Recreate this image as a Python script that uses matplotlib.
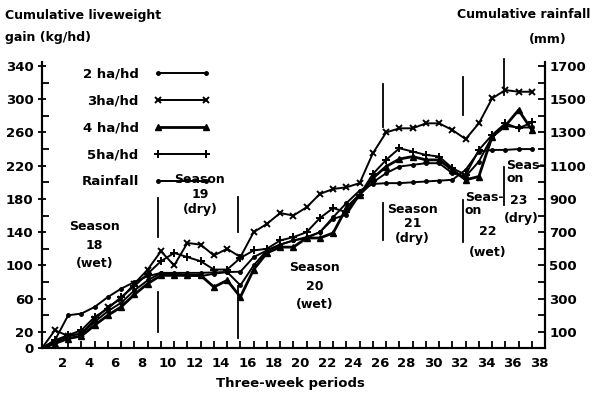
import numpy as np
import matplotlib
matplotlib.use("Agg")
import matplotlib.pyplot as plt
from matplotlib.lines import Line2D
from matplotlib.transforms import ScaledTranslation

plt.rcParams.update({"font.family": "DejaVu Sans", "font.weight": "bold", "font.size": 9})

periods = np.arange(0, 38)
gain_2ha = [0, 8, 15, 18, 32, 45, 55, 70, 82, 91, 90, 88, 87, 90, 92, 76, 100, 118, 125, 130,
            133, 140, 156, 161, 185, 200, 211, 219, 221, 223, 223, 211, 207, 225, 255, 268, 266, 266]
gain_3ha = [0, 22, 15, 18, 35, 50, 60, 78, 95, 117, 100, 127, 125, 112, 120, 110, 140, 150, 163, 160,
            170, 186, 192, 194, 199, 235, 260, 265, 265, 271, 271, 263, 252, 271, 301, 311, 309, 309]
gain_4ha = [0, 6, 12, 15, 28, 40, 50, 65, 78, 88, 88, 88, 88, 74, 82, 62, 95, 115, 122, 122,
            133, 133, 139, 169, 185, 205, 219, 228, 231, 227, 227, 215, 203, 207, 255, 268, 287, 263]
gain_5ha = [0, 10, 16, 22, 38, 48, 62, 75, 90, 105, 115, 110, 105, 95, 95, 109, 118, 120, 130, 134,
            140, 157, 169, 164, 185, 210, 227, 241, 237, 233, 231, 217, 209, 239, 257, 271, 265, 272]
rain_mm = [0, 50, 200, 210, 250, 310, 360, 400, 435, 455, 455, 455, 455, 458, 460, 462, 550, 590, 625, 650,
           670, 700, 790, 875, 950, 990, 995, 995, 1000, 1005, 1010, 1015, 1075, 1185, 1195, 1195, 1200, 1200]

# season boundaries (period) with the two drawn bar pieces (kg units)
bound_x = [8.8, 14.85, 25.8, 31.8, 34.9]
bar_hi = [(134, 181), (140, 182), (266, 318), (281, 327), (305, 348)]
bar_lo = [(20, 68), (13, 75), (131, 175), (128, 179), (173, 219)]

fig = plt.figure(figsize=(5.99, 3.99), dpi=100)
ax = fig.add_axes([0.0696, 0.1266, 0.8404, 0.7184])
ax2 = ax.twinx()

lw = 1.4
h2, = ax.plot(periods, gain_2ha, "k-", marker="o", ms=2.5, lw=lw)
h3, = ax.plot(periods, gain_3ha, "k-", marker="x", ms=4.5, mew=1.4, lw=lw)
h4, = ax.plot(periods, gain_4ha, "k-", marker="^", ms=4, lw=2.0)
h5, = ax.plot(periods, gain_5ha, "k-", marker="+", ms=5.5, mew=1.4, lw=lw)
hr, = ax2.plot(periods, rain_mm, "k-", marker="o", ms=2.5, lw=lw)

for x, (a, b), (c, d) in zip(bound_x, bar_hi, bar_lo):
    ax.plot([x, x], [a, b], color="k", lw=1.3, clip_on=False)
    ax.plot([x, x], [c, d], color="k", lw=1.3, clip_on=False)

ax.set_xlim(0, 38)
ax.set_ylim(0, 345)
ax2.set_ylim(0, 1725)
for a in (ax, ax2):
    a.spines["top"].set_visible(False)
    for s in a.spines.values():
        s.set_linewidth(1.5)

ax.set_xticks(np.arange(2, 39, 2))
ax.set_xticks(np.arange(1, 38), minor=True)
ax.set_yticks([0, 20, 60, 100, 140, 180, 220, 260, 300, 340])
ax.set_yticks(np.arange(0, 341, 20), minor=True)
ax2.set_yticks(np.arange(100, 1701, 200))
ax2.set_yticks(np.arange(0, 1701, 100), minor=True)
ax.tick_params(axis="x", which="both", direction="in", length=5, width=1.3, labelsize=9.5, pad=6)
ax.tick_params(axis="y", which="major", direction="inout", length=6, width=1.3, labelsize=9.5, pad=3)
ax.tick_params(axis="y", which="minor", direction="in", length=5, width=1.3)
ax2.tick_params(axis="y", which="both", direction="in", length=5, width=1.3, labelsize=9.5, pad=3)
shift = ScaledTranslation(-6 / 100, 0, fig.dpi_scale_trans)
for lab in ax.get_xticklabels():
    lab.set_transform(lab.get_transform() + shift)

ax.legend([h2, h3, h4, h5, hr], ["2 ha/hd", "3ha/hd", "4 ha/hd", "5ha/hd", "Rainfall"],
          loc="upper left", bbox_to_anchor=(0.055, 1.02), frameon=False, markerfirst=False,
          numpoints=2, handlelength=4.2, labelspacing=1.05, fontsize=9.5, handletextpad=1.2)

kw = dict(fontsize=9, ha="center", va="center", linespacing=1.55)
ax.text(4.0, 124, "Season\n18\n(wet)", **kw)
ax.text(11.95, 185, "Season\n19\n(dry)", linespacing=1.2, **{k: v for k, v in kw.items() if k != "linespacing"})
ax.text(20.6, 75, "Season\n20\n(wet)", **kw)
ax.text(28.0, 150, "Season\n21\n(dry)", linespacing=1.15, **{k: v for k, v in kw.items() if k != "linespacing"})
ax.text(31.95, 174, "Seas-\non", fontsize=9, ha="left", va="center", linespacing=1.0)
ax.text(33.7, 141, "22", fontsize=9, ha="center", va="center")
ax.text(33.7, 115, "(wet)", fontsize=9, ha="center", va="center")
ax.text(35.05, 213, "Seas-\non", fontsize=9, ha="left", va="center", linespacing=1.0)
ax.text(36.0, 178, "23", fontsize=9, ha="center", va="center")
ax.text(36.2, 157, "(dry)", fontsize=9, ha="center", va="center")

fig.text(5 / 599, 1 - 15 / 399, "Cumulative liveweight", fontsize=9, ha="left", va="center")
fig.text(5 / 599, 1 - 37 / 399, "gain (kg/hd)", fontsize=9, ha="left", va="center")
fig.text(590 / 599, 1 - 15 / 399, "Cumulative rainfall", fontsize=9, ha="right", va="center")
fig.text(548 / 599, 1 - 40 / 399, "(mm)", fontsize=9, ha="center", va="center")
fig.text(290 / 599, 1 - 383 / 399, "Three-week periods", fontsize=9.5, ha="center", va="center")

fig.savefig("out.png", dpi=100)
